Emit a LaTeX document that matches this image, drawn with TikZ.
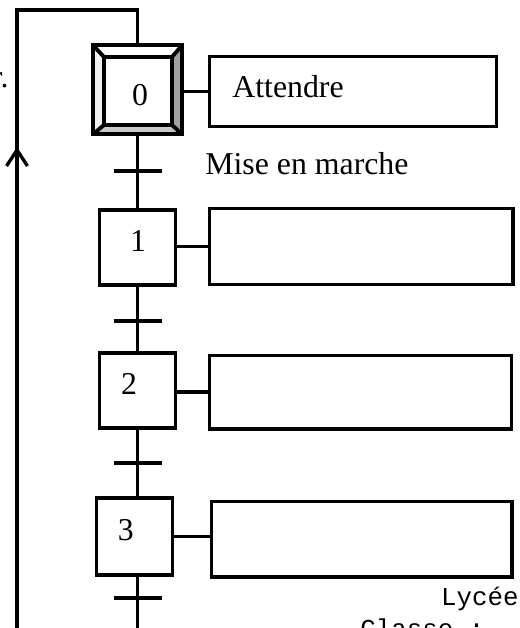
\documentclass[tikz,border=0pt]{standalone}
\usepackage{fontspec}
\setmainfont{Liberation Serif}
\newfontfamily\courier{Liberation Mono}
\usetikzlibrary{arrows.meta}
\tikzset{
  cadre/.style={rectangle, inner sep=0pt, outer sep=0pt},
  etape/.style={cadre, draw, line width=2.2pt, minimum width=1.52cm, minimum height=1.5cm},
  action/.style={cadre, draw, line width=2.2pt, minimum height=1.5cm},
  lien/.style={line width=2.2pt},
  boucle/.style={line width=1.9pt},
  texte/.style={font=\fontsize{18.1}{22}\selectfont, inner sep=0pt},
  mono/.style={font=\courier\fontsize{14.7}{17}\selectfont, inner sep=0pt}
}
\begin{document}
\begin{tikzpicture}
	\useasboundingbox (0,0) rectangle (10.4,12.56);
	\clip (0,0) rectangle (10.4,12.56);
	
	% Etape initiale 0 : double cadre en relief
	\node[cadre, minimum size=1.78cm] (e0) at (2.75,10.765) {};
	\node[cadre, minimum size=1.36cm] (e0i) at (2.76,10.74) {};
	\fill[gray!12] (e0.north west) -- (e0.south west) -- (e0i.south west) -- (e0i.north west) -- cycle;
	\fill[black!37] (e0.north east) -- (e0.south east) -- (e0i.south east) -- (e0i.north east) -- cycle;
	\fill[black!22] (e0.south west) -- (e0.south east) -- (e0i.south east) -- (e0i.south west) -- cycle;
	\draw[lien] (e0.south west) rectangle (e0.north east);
	\draw[lien] (e0i.south west) rectangle (e0i.north east);
	\draw[lien] (e0.north west) -- (e0i.north west) (e0.north east) -- (e0i.north east)
	  (e0.south west) -- (e0i.south west) (e0.south east) -- (e0i.south east);
	\node[texte] (n0) at (2.80,10.65) {0};
	
	% Etapes 1, 2 et 3
	\node[etape] (e1) at (2.75,7.61) {};
	\node[etape] (e2) at (2.75,4.75) {};
	\node[etape, minimum height=1.54cm] (e3) at (2.69,1.83) {};
	\node[texte] (n1) at (2.76,7.74) {1};
	\node[texte] (n2) at (2.58,4.88) {2};
	\node[texte] (n3) at (2.514,1.96) {3};
	
	% Rectangles des actions
	\node[action, minimum width=5.74cm, minimum height=1.40cm] (a0) at (7.06,10.73) {};
	\node[action, minimum width=6.07cm, minimum height=1.52cm] (a1) at (7.225,7.63) {};
	\node[action, minimum width=6.04cm, minimum height=1.47cm] (a2) at (7.21,4.715) {};
	\node[action, minimum width=6.01cm, minimum height=1.51cm] (a3) at (7.235,1.775) {};
	\node[texte, anchor=base west] (attendre) at (4.64,10.6) {Attendre};
	
	% Liaisons etapes - actions
	\draw[lien] (a0.west -| e0.east) -- (a0.west);
	\draw[lien] (a1.west -| e1.east) -- (a1.west);
	\draw[lien] (a2.west -| e2.east) -- (a2.west);
	\draw[lien] (e3.east) -- (e3.east -| a3.west);
	
	% Liaisons verticales et transitions
	\coordinate (fin) at (2.75,-0.2);
	\draw[lien] (e0.south) -- (e1.north);
	\draw[lien] (e1.south) -- (e2.north);
	\draw[lien] (e2.south) -- (e2.south |- e3.north);
	\draw[lien] (e3.south -| fin) -- (fin);
	\foreach \t/\y in {t1/9.14, t2/6.14, t3/3.30, t4/0.60} {
	  \coordinate (\t) at (2.75,\y);
	  \draw[lien] ([xshift=-0.48cm]\t) -- ([xshift=0.48cm]\t);
	}
	\node[texte, anchor=base west] (mise) at (4.10,9.06) {Mise en marche};
	
	% Retour vers l'etape initiale
	\coordinate (gauche) at (0.34,12.36);
	\coordinate (bas) at (0.34,-0.2);
	\coordinate (fleche) at (0.34,9.62);
	\draw[boucle] (e0.north) |- (gauche) -- (bas);
	\draw[boucle, -{Straight Barb[length=0.32cm, width=0.42cm]}] (bas) -- (fleche);
	
	% Textes coupes au bord
	\node[texte, anchor=base east] (coupe) at (0.18,10.8) {r.};
	\node[mono, anchor=base east] (lycee) at (10.38,0.44) {Lycée};
	\node[mono, anchor=base west] (classe) at (7.2,-0.2) {Classe :};
\end{tikzpicture}
\end{document}
